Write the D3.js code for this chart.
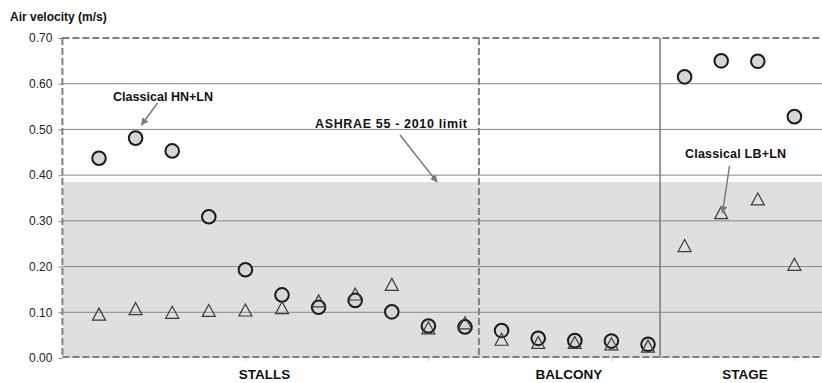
<!DOCTYPE html>
<html>
<head>
<meta charset="utf-8">
<script src="https://cdn.jsdelivr.net/npm/d3@7"></script>
<style>
  html, body { margin: 0; padding: 0; background: #fff; }
  svg { display: block; font-family: "Liberation Sans", Arial, sans-serif; }
</style>
</head>
<body>
<svg id="chart" width="822" height="383"></svg>
<script>
// Measurement positions along the hall (1..20)
const positions = [1, 2, 3, 4, 5, 6, 7, 8, 9, 10, 11, 12, 13, 14, 15, 16, 17, 18, 19, 20];
// Classical HN+LN air velocity (m/s)
const hnln = [0.437, 0.481, 0.453, 0.309, 0.193, 0.138, 0.111, 0.126, 0.101, 0.070, 0.068,
              0.060, 0.043, 0.038, 0.037, 0.030,
              0.615, 0.650, 0.649, 0.528];
// Classical LB+LN air velocity (m/s)
const lbln = [0.096, 0.108, 0.100, 0.104, 0.105, 0.110, 0.125, 0.140, 0.161, 0.066, 0.077,
              0.041, 0.034, 0.034, 0.031, 0.026,
              0.246, 0.318, 0.348, 0.205];
// Comfort limit (ASHRAE 55 - 2010)
const ashraeLimit = 0.385;
// Zones of the hall
const zoneNames = ["STALLS", "BALCONY", "STAGE"];
const zoneBounds = [0, 11.38, 16.33, 21];
const zoneLabelPos = [5.52, 13.84, 18.65];
// Axis ticks
const yTicks = [0, 0.1, 0.2, 0.3, 0.4, 0.5, 0.6, 0.7];
const xTicks = [5, 10, 15, 20];

const svg = d3.select("#chart");
const x = d3.scaleLinear().domain([0, 21]).range([62.4, 831]);
const y = d3.scaleLinear().domain([0, 0.7]).range([358, 38]);
const x0 = x(0), x1 = x(21);

// shaded comfort band
svg.append("rect")
  .attr("x", x0).attr("y", y(ashraeLimit))
  .attr("width", x1 - x0).attr("height", y(0) - y(ashraeLimit))
  .attr("fill", "#dfdfdf");

// horizontal gridlines
svg.append("g").selectAll("line")
  .data(yTicks.filter(t => t > 0 && t < 0.7))
  .join("line")
  .attr("x1", x0).attr("x2", x1)
  .attr("y1", d => y(d)).attr("y2", d => y(d))
  .attr("stroke", "#888").attr("stroke-width", 1);

// y axis
const yAxis = svg.append("g")
  .attr("transform", `translate(${x0},0)`)
  .call(d3.axisLeft(y).tickValues(yTicks).tickFormat(d3.format(".2f")).tickSize(4).tickPadding(6));
yAxis.select(".domain").remove();
yAxis.selectAll(".tick line").attr("stroke", "#888");
yAxis.selectAll(".tick text")
  .attr("font-size", 12).attr("fill", "#222")
  .attr("font-family", "Liberation Sans, Arial, sans-serif");

// x axis tick marks
const xAxis = svg.append("g")
  .attr("transform", `translate(0,${y(0)})`)
  .call(d3.axisBottom(x).tickValues(xTicks).tickSize(3).tickFormat(""));
xAxis.select(".domain").remove();
xAxis.selectAll(".tick line").attr("stroke", "#c8c8c8");

// dashed zone outlines
const dash = "7,3";
const outline = svg.append("g").attr("fill", "none").attr("stroke", "#808080").attr("stroke-width", 2);
outline.append("line").attr("x1", x0).attr("x2", x1).attr("y1", y(0.7)).attr("y2", y(0.7)).attr("stroke-dasharray", dash);
outline.append("line").attr("x1", x0).attr("x2", x1).attr("y1", y(0) - 1).attr("y2", y(0) - 1).attr("stroke-dasharray", dash);
outline.append("line").attr("x1", x0).attr("x2", x0).attr("y1", y(0.7)).attr("y2", y(0)).attr("stroke-dasharray", dash);
outline.append("line").attr("x1", x(zoneBounds[1])).attr("x2", x(zoneBounds[1]))
  .attr("y1", y(0.7)).attr("y2", y(0)).attr("stroke-dasharray", dash);
outline.append("line").attr("x1", x(zoneBounds[2])).attr("x2", x(zoneBounds[2]))
  .attr("y1", y(0.7)).attr("y2", y(0)).attr("stroke-width", 1.6);

// HN+LN circles
svg.append("g").selectAll("circle")
  .data(positions.map((p, i) => [p, hnln[i]]))
  .join("circle")
  .attr("cx", d => x(d[0])).attr("cy", d => y(d[1]))
  .attr("r", 6.8)
  .attr("fill", "#d6d6d6").attr("stroke", "#1a1a1a").attr("stroke-width", 2);

// LB+LN open triangles
svg.append("g").selectAll("path")
  .data(positions.map((p, i) => [p, lbln[i]]))
  .join("path")
  .attr("transform", d => `translate(${x(d[0])},${y(d[1])})`)
  .attr("d", "M0,-6L6.5,6L-6.5,6Z")
  .attr("fill", "none").attr("stroke", "#3a3a3a").attr("stroke-width", 1.2);

// arrowheads
svg.append("defs").append("marker")
  .attr("id", "arrow").attr("viewBox", "0 0 10 10")
  .attr("refX", 9).attr("refY", 5)
  .attr("markerWidth", 5).attr("markerHeight", 5)
  .attr("orient", "auto")
  .append("path").attr("d", "M0,0L10,5L0,10Z").attr("fill", "#7a7a7a");

const notes = [
  { text: "Classical HN+LN", tx: 163, ty: 100.5, len: 100, from: [157.5, 103], to: [141.5, 125] },
  { text: "ASHRAE 55 - 2010 limit", tx: 391, ty: 128, len: 152, from: [400, 135], to: [437, 182] },
  { text: "Classical LB+LN", tx: 735.5, ty: 158, len: 101, from: [729.5, 166], to: [722.5, 213] }
];
const ann = svg.append("g");
notes.forEach(n => {
  ann.append("line")
    .attr("x1", n.from[0]).attr("y1", n.from[1]).attr("x2", n.to[0]).attr("y2", n.to[1])
    .attr("stroke", "#7a7a7a").attr("stroke-width", 1.5)
    .attr("marker-end", "url(#arrow)");
  ann.append("text")
    .attr("x", n.tx).attr("y", n.ty)
    .attr("text-anchor", "middle")
    .attr("textLength", n.len).attr("lengthAdjust", "spacing")
    .attr("font-size", 12.5).attr("font-weight", "bold").attr("fill", "#111")
    .text(n.text);
});

// zone labels
svg.append("g").selectAll("text")
  .data(zoneNames)
  .join("text")
  .attr("x", (d, i) => x(zoneLabelPos[i])).attr("y", 378.5)
  .attr("text-anchor", "middle")
  .attr("font-size", 13.5).attr("font-weight", "bold").attr("fill", "#111")
  .text(d => d);

// axis title
svg.append("text")
  .attr("x", 10).attr("y", 21)
  .attr("font-size", 12).attr("font-weight", "bold").attr("fill", "#111")
  .text("Air velocity (m/s)");
</script>
</body>
</html>
